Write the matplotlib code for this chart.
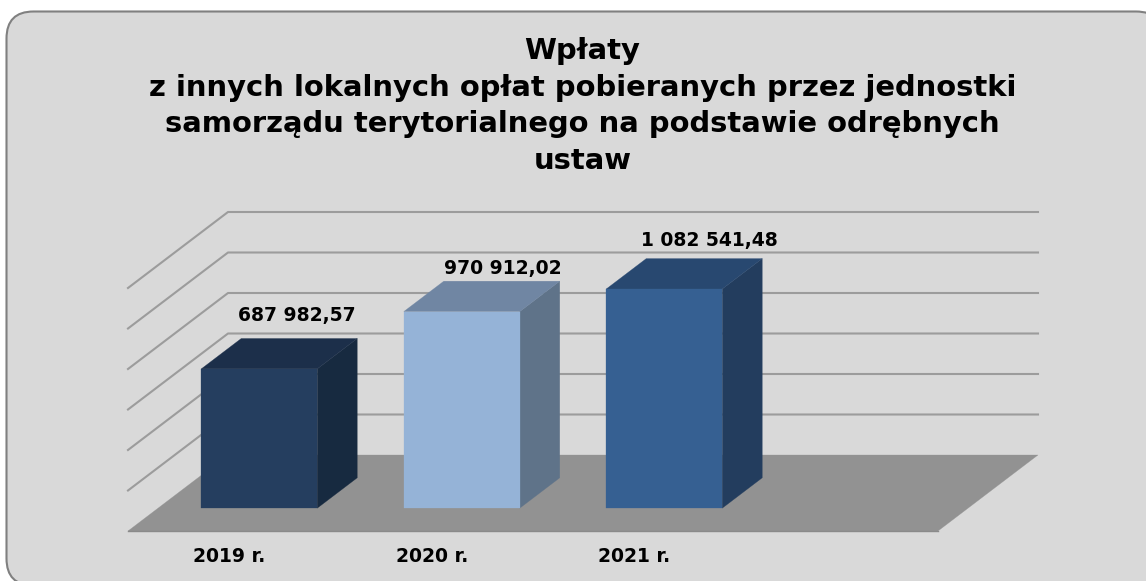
import matplotlib
matplotlib.use("Agg")
import matplotlib.pyplot as plt
from matplotlib.patches import FancyBboxPatch

years = ["2019 r.", "2020 r.", "2021 r."]
values = [687982.57, 970912.02, 1082541.48]
value_labels = ["687 982,57", "970 912,02", "1 082 541,48"]
grid_values = [200000, 400000, 600000, 800000, 1000000, 1200000]
title = ("Wpłaty\nz innych lokalnych opłat pobieranych przez jednostki\n"
         "samorządu terytorialnego na podstawie odrębnych\nustaw")

front_colors = ["#253e5f", "#95b3d7", "#366092"]
top_colors = ["#1c2f4a", "#7086a3", "#284870"]
side_colors = ["#172a40", "#5f7389", "#233d5e"]

# the value labels were placed by hand in the original
label_dx = [-2, 1, 5]
label_dy = [23, 13, 18]

W, H = 1146, 581
plt.rcParams["font.family"] = "DejaVu Sans"
fig = plt.figure(figsize=(W / 100, H / 100), dpi=100, facecolor="white")

# background card, in pixels
bg = fig.add_axes([0, 0, 1, 1])
bg.set_xlim(0, W)
bg.set_ylim(H, 0)
bg.axis("off")
bg.add_patch(FancyBboxPatch((6.5, 11.5), 1156.5, 574,
                            boxstyle="round,pad=0,rounding_size=27",
                            fc="#d9d9d9", ec="#808080", lw=1.5))
bg.text(582.5, 106, title, ha="center", va="center", fontsize=20.9,
        fontweight="bold", linespacing=1.4, color="black")

# front plane of the chart, depth is added by hand
ax = fig.add_axes([128 / W, 1 - 531 / H, 810 / W, 243 / H])
ax.set_xlim(0, 4)
ax.set_ylim(0, 1200000)
ax.axis("off")

depth_x = 100 / 202.5
depth_y = 76 / 243 * 1200000


def project(cat, val, depth):
    return cat + depth * depth_x, val + depth * depth_y


def face(points, color, z):
    xs, ys = zip(*[project(*p) for p in points])
    ax.fill(xs, ys, color=color, lw=0.2, clip_on=False, zorder=z)


for val in grid_values:
    xs, ys = zip(project(0, val, 0), project(0, val, 1), project(4, val, 1))
    ax.plot(xs, ys, color="#9c9c9c", lw=1.5, clip_on=False, zorder=1)

face([(0, 0, 0), (4, 0, 0), (4, 0, 1), (0, 0, 1)], "#929292", 2)
ax.plot([0, 4], [0, 0], color="#8a8a8a", lw=1, clip_on=False, zorder=2)

bar_width = 116 / 202.5
d0, d1 = 0.30, 0.70
for i, val in enumerate(values):
    left = i + 0.5 - bar_width / 2
    right = i + 0.5 + bar_width / 2
    face([(left, 0, d0), (right, 0, d0), (right, val, d0), (left, val, d0)], front_colors[i], 4)
    face([(right, 0, d0), (right, 0, d1), (right, val, d1), (right, val, d0)], side_colors[i], 3)
    face([(left, val, d0), (right, val, d0), (right, val, d1), (left, val, d1)], top_colors[i], 3)
    ax.annotate(value_labels[i], project(i + 0.5, val, d1), xytext=(label_dx[i], label_dy[i]),
                textcoords="offset pixels", ha="center", va="center", fontsize=13.5,
                fontweight="bold", annotation_clip=False, zorder=5)
    ax.annotate(years[i], (i + 0.5, 0), xytext=(0, -25), textcoords="offset pixels",
                ha="center", va="center", fontsize=13.5, fontweight="bold",
                annotation_clip=False)

fig.savefig("out.png", dpi=100, facecolor="white")
plt.close(fig)
